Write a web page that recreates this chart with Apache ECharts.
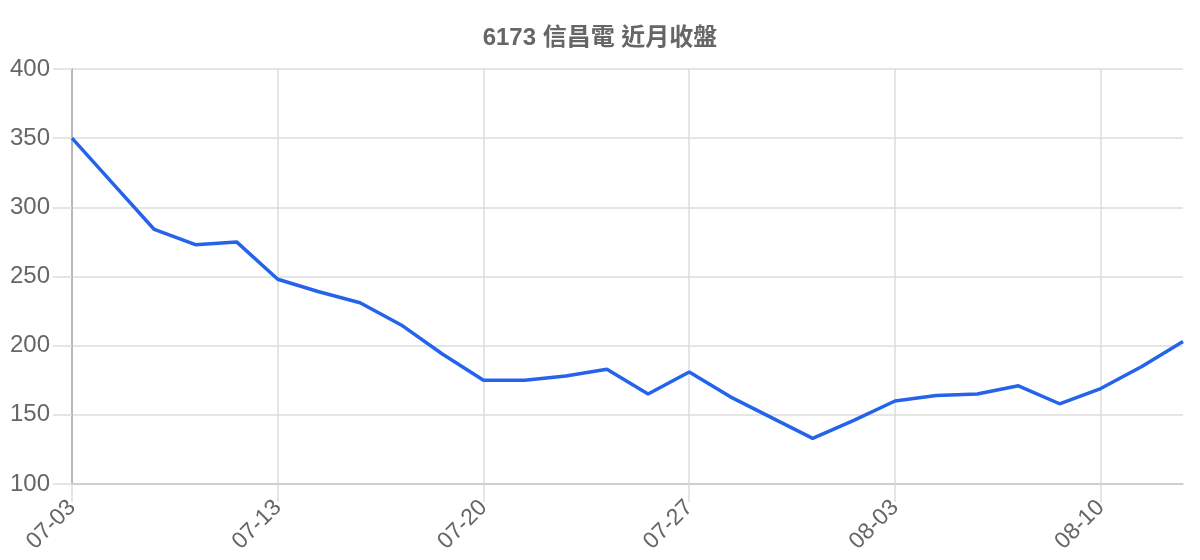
<!DOCTYPE html>
<html>
<head>
<meta charset="utf-8">
<script src="https://cdn.jsdelivr.net/npm/echarts@6/dist/echarts.min.js"></script>
<style>
  html, body { margin: 0; padding: 0; background: #fff; }
  #chart { width: 1200px; height: 560px; }
</style>
</head>
<body>
<div id="chart"></div>
<script>
var title = '6173 信昌電 近月收盤'
var dates = ['07-03','07-06','07-07','07-08','07-09','07-13','07-14','07-15','07-16','07-17',
             '07-20','07-21','07-22','07-23','07-24','07-27','07-28','07-29','07-30','07-31',
             '08-03','08-04','08-05','08-06','08-07','08-10','08-11','08-12']
var closes = [350,317,284,273,275,248,239,231,215,194,
              175,175,178,183,165,181,163,148,133,146,
              160,164,165,171,158,169,185,203]
var yMin = 100, yMax = 400, yStep = 50

var option = {
  animation: false,
  title: {
    text: title,
    left: 'center',
    top: 21,
    textStyle: {
      fontSize: 24,
      fontWeight: 'bold',
      color: '#666',
      fontFamily: 'Liberation Sans, "Noto Sans CJK TC", sans-serif'
    }
  },
  grid: {
    left: 72,
    right: 17,
    top: 69,
    bottom: 76,
    containLabel: false
  },
  xAxis: {
    type: 'category',
    data: dates,
    boundaryGap: false,
    axisLine: { lineStyle: { color: '#c8c8c8', width: 1.5 } },
    axisTick: {
      show: true,
      interval: 4,
      length: 18,
      lineStyle: { color: '#ddd', width: 1.5 }
    },
    axisLabel: {
      interval: 4,
      rotate: 45,
      margin: 20,
      fontSize: 23,
      color: '#666',
      fontFamily: 'Liberation Sans, sans-serif'
    },
    splitLine: {
      show: true,
      interval: 4,
      lineStyle: { color: '#ddd', width: 1.5 }
    }
  },
  yAxis: {
    type: 'value',
    min: yMin,
    max: yMax,
    interval: yStep,
    axisLine: { show: true, lineStyle: { color: '#a8a8a8', width: 1.5 } },
    axisTick: {
      show: true,
      length: 19,
      lineStyle: { color: '#ddd', width: 1.5 }
    },
    axisLabel: {
      margin: 22,
      fontSize: 24,
      color: '#666',
      fontFamily: 'Liberation Sans, sans-serif'
    },
    splitLine: { lineStyle: { color: '#ddd', width: 1.5 } }
  },
  series: [
    {
      name: '收盤',
      type: 'line',
      data: closes,
      showSymbol: false,
      lineStyle: { color: '#2563eb', width: 3.5 },
      itemStyle: { color: '#2563eb' }
    }
  ]
}

var chart = echarts.init(document.getElementById('chart'))
chart.setOption(option)
</script>
</body>
</html>
